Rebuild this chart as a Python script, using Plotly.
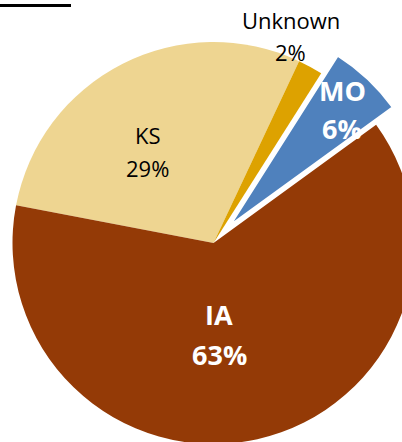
import math
import plotly.graph_objects as go

# ---- data ----
labels = ["KS", "Unknown", "MO", "IA"]
values = [29, 2, 6, 63]

# ---- styles ----
colors = ["#EED591", "#DDA200", "#4F81BD", "#943A06"]
pulls = [0, 0, 0.12, 0]
line_widths = [0, 0, 2, 0]
text_colors = ["black", "black", "white", "white"]
text_sizes = [22, 22, 27, 27]
text_bold = [False, False, True, True]
# label placement: distance from slice centre (fraction of radius), angle tweak (deg)
label_r = [0.562, 1.10, 0.804, 0.454]
label_da = [-8.5, -8.3, 0.8, 9.1]
line_gap = [33, 32, 38, 40]

# ---- layout geometry (figure is larger than the window and shifted) ----
W, H = 490, 500
SHIFT_X, SHIFT_Y = 30, 20
R = 201
ROT = 280.8
cx, cy = 213.5 + SHIFT_X, 243 + SHIFT_Y
half = R * (1 + max(pulls))

fig = go.Figure(go.Pie(
    labels=labels,
    values=values,
    sort=False,
    direction="clockwise",
    rotation=ROT,
    pull=pulls,
    marker=dict(colors=colors, line=dict(color="white", width=line_widths)),
    textinfo="none",
    showlegend=False,
    hoverinfo="label+percent",
    domain=dict(x=[(cx - half) / W, (cx + half) / W],
                y=[1 - (cy + half) / H, 1 - (cy - half) / H]),
))

# labels, placed from each slice's bisector
total = sum(values)
annotations = []
start = ROT
for i, (lab, v) in enumerate(zip(labels, values)):
    span = 360.0 * v / total
    mid = start + span / 2
    start += span
    a = math.radians(mid)
    sx = cx + pulls[i] * R * math.sin(a)
    sy = cy - pulls[i] * R * math.cos(a)
    b = math.radians(mid + label_da[i])
    px = sx + label_r[i] * R * math.sin(b)
    py = sy - label_r[i] * R * math.cos(b)
    pct = f"{round(100 * v / total)}%"
    for txt, dy in ((lab, -line_gap[i] / 2), (pct, line_gap[i] / 2)):
        annotations.append(dict(
            x=px / W, y=1 - (py + dy) / H, xref="paper", yref="paper",
            text=f"<b>{txt}</b>" if text_bold[i] else txt,
            showarrow=False, xanchor="center", yanchor="middle",
            font=dict(family="Open Sans", size=text_sizes[i], color=text_colors[i]),
        ))

fig.update_layout(
    width=W, height=H,
    margin=dict(l=0, r=0, t=0, b=0),
    paper_bgcolor="white",
    font=dict(family="Open Sans"),
    annotations=annotations,
    shapes=[dict(type="line", xref="paper", yref="paper",
                 x0=0, x1=(71 + SHIFT_X) / W,
                 y0=1 - (5.5 + SHIFT_Y) / H, y1=1 - (5.5 + SHIFT_Y) / H,
                 line=dict(color="black", width=3))],
)

post = (
    "var h=document.documentElement;h.style.margin='0';h.style.overflow='hidden';"
    "var b=document.body;b.style.margin='0';b.style.overflow='hidden';"
    "b.style.width='402px';b.style.height='442px';"
    "var g=document.getElementById('{plot_id}');var p=g.parentElement;"
    "p.style.position='relative';p.style.width='402px';p.style.height='442px';"
    "p.style.overflow='hidden';"
    "g.style.position='absolute';g.style.left='-%dpx';g.style.top='-%dpx';"
    % (SHIFT_X, SHIFT_Y)
)
fig.write_html("out.html", post_script=post)
